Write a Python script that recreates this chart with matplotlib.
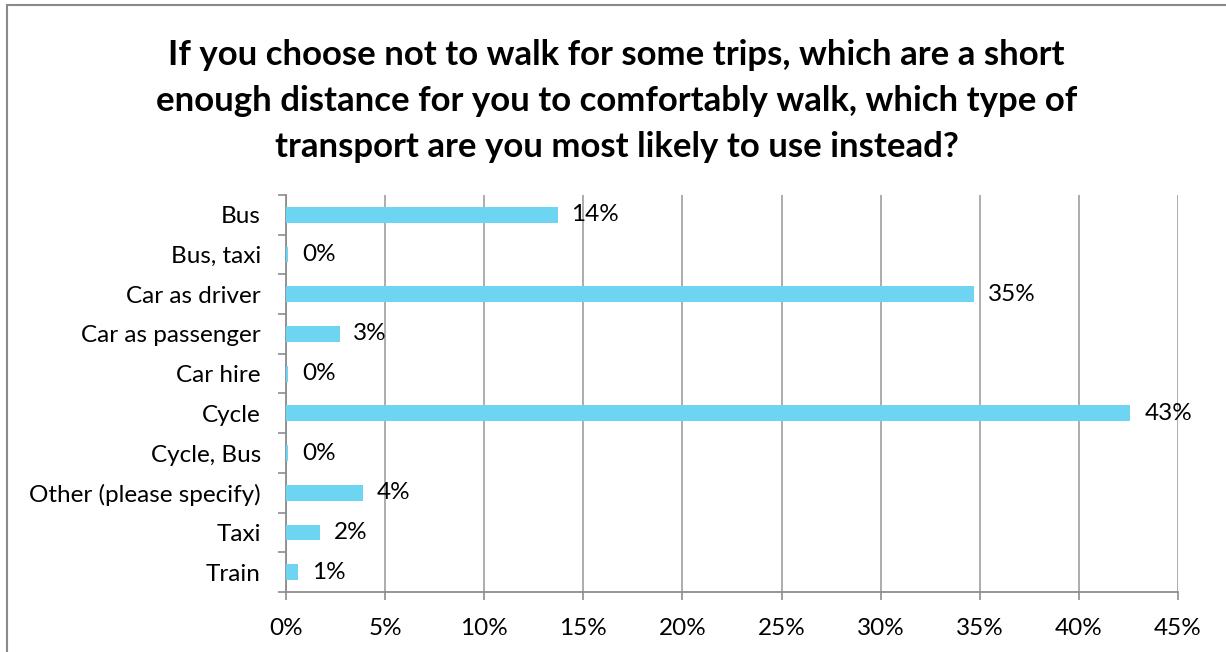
import matplotlib.pyplot as plt
from matplotlib.patches import Rectangle
from matplotlib.ticker import FixedLocator, PercentFormatter

# survey answers, percent of respondents
modes = ['Bus', 'Bus, taxi', 'Car as driver', 'Car as passenger', 'Car hire',
         'Cycle', 'Cycle, Bus', 'Other (please specify)', 'Taxi', 'Train']
shares = [13.7, 0.1, 34.7, 2.7, 0.1, 42.6, 0.1, 3.9, 1.7, 0.6]
x_ticks = [0, 5, 10, 15, 20, 25, 30, 35, 40, 45]

title = ('If you choose not to walk for some trips, which are a short\n'
         'enough distance for you to comfortably walk, which type of\n'
         'transport are you most likely to use instead?')

plt.rcParams['font.family'] = ['Lato', 'DejaVu Sans']
grey = '#8c8c8c'
fs = 17.5

fig = plt.figure(figsize=(12.26, 6.52), dpi=100)
# outer chart frame (left and top edges show)
fig.patches.append(Rectangle((7 / 1226, -0.1), 1.2, 1.1 - 5 / 652,
                             transform=fig.transFigure, fill=False,
                             edgecolor='#8a8a8a', linewidth=1.5))

ax = fig.add_axes([286 / 1226, 1 - 592 / 652, 892 / 1226, 397 / 652])
pos = list(range(len(modes)))
ax.barh(pos, shares, height=0.4, color='#6dd5f2', zorder=3)
ax.set_ylim(len(modes) - 0.5, -0.5)
ax.set_xlim(0, 45)

for p, v in zip(pos, shares):
    ax.annotate('{:.0f}%'.format(v), (v, p), xytext=(10, 0),
                textcoords='offset points', va='center', ha='left',
                fontsize=fs, color='black', zorder=4)

ax.set_yticks(pos)
ax.set_yticklabels(modes, fontsize=fs)
ax.yaxis.set_minor_locator(FixedLocator([i - 0.5 for i in range(len(modes) + 1)]))
ax.tick_params(axis='y', which='major', length=0, pad=18)
ax.tick_params(axis='y', which='minor', length=6, color=grey, width=1.2)

ax.xaxis.set_major_locator(FixedLocator(x_ticks))
ax.xaxis.set_major_formatter(PercentFormatter(decimals=0))
ax.tick_params(axis='x', length=6, color=grey, width=1.2, labelsize=fs, pad=13)
ax.grid(axis='x', color='#a6a6a6', linewidth=1.3, zorder=0)

for s in ['top', 'right']:
    ax.spines[s].set_visible(False)
for s in ['left', 'bottom']:
    ax.spines[s].set_color(grey)
    ax.spines[s].set_linewidth(1.3)

fig.text(0.503, 1 - 101 / 652, title, ha='center', va='center',
         fontsize=25, fontweight='bold', linespacing=1.55)

fig.savefig('out.png', dpi=100)
